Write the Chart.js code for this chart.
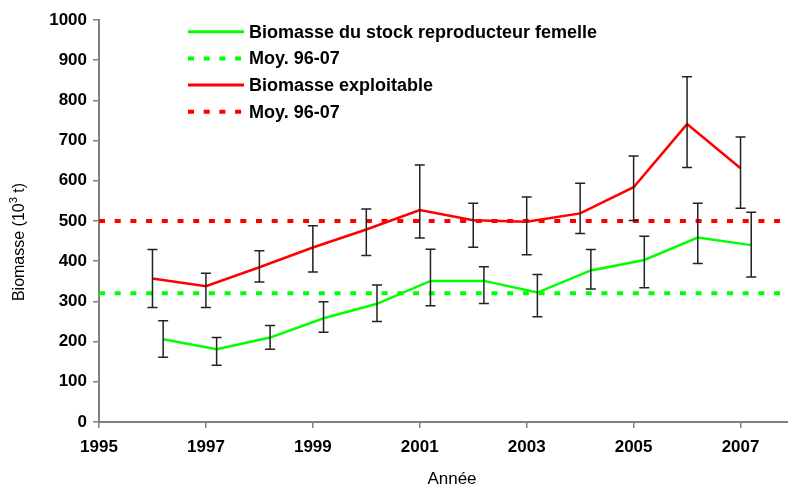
<!DOCTYPE html>
<html>
<head>
<meta charset="utf-8">
<script src="https://cdn.jsdelivr.net/npm/chart.js@4.4.0/dist/chart.umd.min.js"></script>
<style>
  html, body { margin: 0; padding: 0; overflow: hidden; background: #fff; }
</style>
</head>
<body>
<canvas id="chart" width="794" height="486"></canvas>
<script>
// données (milliers de tonnes)
const years = [1996, 1997, 1998, 1999, 2000, 2001, 2002, 2003, 2004, 2005, 2006, 2007];
const ssbValues = [206, 181, 210, 258, 294, 351, 351, 322, 377, 403, 459, 440];
const ssbLow = [161, 141, 181, 223, 250, 289, 295, 262, 331, 334, 394, 361];
const ssbHigh = [252, 210, 240, 299, 341, 430, 386, 367, 429, 462, 544, 522];
const exploitValues = [357, 338, 385, 434, 479, 527, 502, 498, 519, 584, 741, 631];
const exploitLow = [285, 285, 348, 373, 414, 458, 435, 416, 469, 501, 633, 532];
const exploitHigh = [429, 370, 426, 488, 530, 639, 544, 560, 594, 662, 859, 709];
const ssbMean = 320;
const exploitMean = 500;
const meanSpan = [1995, 2008];
const xTicks = [1995, 1997, 1999, 2001, 2003, 2005, 2007];
const labels = ["Biomasse du stock reproducteur femelle", "Moy. 96-07", "Biomasse exploitable", "Moy. 96-07"];

const FONT = "'Liberation Sans', Arial, sans-serif";
const GREEN = "#00ff00";
const RED = "#ff0000";
const AXIS = "#808080";
const SSB_SHIFT = 0.2; // la série femelle est décalée pour ne pas chevaucher les barres

const ssbPoints = years.map((y, i) => ({ x: y + SSB_SHIFT, y: ssbValues[i] }));
const exploitPoints = years.map((y, i) => ({ x: y, y: exploitValues[i] }));

// barres d'erreur
const errorBars = {
  id: "errorBars",
  afterDatasetsDraw(chart) {
    const ctx = chart.ctx;
    const yScale = chart.scales.y;
    ctx.save();
    ctx.strokeStyle = "#222";
    ctx.lineWidth = 1.5;
    chart.data.datasets.forEach((ds, i) => {
      if (!ds.errLow) return;
      const meta = chart.getDatasetMeta(i);
      meta.data.forEach((pt, j) => {
        const x = pt.x;
        const top = yScale.getPixelForValue(ds.errHigh[j]);
        const bot = yScale.getPixelForValue(ds.errLow[j]);
        ctx.beginPath();
        ctx.moveTo(x, top); ctx.lineTo(x, bot);
        ctx.moveTo(x - 5, top); ctx.lineTo(x + 5, top);
        ctx.moveTo(x - 5, bot); ctx.lineTo(x + 5, bot);
        ctx.stroke();
      });
    });
    ctx.restore();
  }
};

// légende dans la zone du graphique + titres des axes
const extras = {
  id: "extras",
  afterDraw(chart) {
    const ctx = chart.ctx;
    ctx.save();
    chart.data.datasets.forEach((ds, i) => {
      const y = 31.7 + i * 26.7;
      ctx.strokeStyle = ds.borderColor;
      ctx.lineWidth = ds.borderDash ? 4 : 3;
      ctx.setLineDash(ds.borderDash || []);
      ctx.beginPath();
      ctx.moveTo(188, y); ctx.lineTo(244, y);
      ctx.stroke();
      ctx.setLineDash([]);
      ctx.fillStyle = "#000";
      ctx.font = "bold 18px " + FONT;
      ctx.textAlign = "left";
      ctx.textBaseline = "middle";
      ctx.fillText(ds.label, 249, y + 1);
    });

    ctx.fillStyle = "#000";
    ctx.font = "17px " + FONT;
    ctx.textAlign = "center";
    ctx.textBaseline = "middle";
    ctx.fillText("Année", 452, 479);

    // titre vertical avec exposant
    ctx.translate(20, 242);
    ctx.rotate(-Math.PI / 2);
    const a = "Biomasse (10", sup = "3", b = " t)";
    ctx.font = "16px " + FONT;
    const wa = ctx.measureText(a).width, wb = ctx.measureText(b).width;
    ctx.font = "11px " + FONT;
    const ws = ctx.measureText(sup).width;
    let x0 = -(wa + ws + wb) / 2;
    ctx.textAlign = "left";
    ctx.font = "16px " + FONT;
    ctx.fillText(a, x0, 0);
    ctx.font = "11px " + FONT;
    ctx.fillText(sup, x0 + wa, -6);
    ctx.font = "16px " + FONT;
    ctx.fillText(b, x0 + wa + ws, 0);
    ctx.restore();
  }
};

new Chart(document.getElementById("chart"), {
  type: "line",
  data: {
    datasets: [
      {
        label: labels[0],
        data: ssbPoints,
        borderColor: GREEN,
        borderWidth: 2.5,
        pointRadius: 0,
        errLow: ssbLow,
        errHigh: ssbHigh
      },
      {
        label: labels[1],
        data: meanSpan.map(x => ({ x: x, y: ssbMean })),
        borderColor: GREEN,
        borderWidth: 4,
        borderDash: [6, 9.7],
        pointRadius: 0
      },
      {
        label: labels[2],
        data: exploitPoints,
        borderColor: RED,
        borderWidth: 2.5,
        pointRadius: 0,
        errLow: exploitLow,
        errHigh: exploitHigh
      },
      {
        label: labels[3],
        data: meanSpan.map(x => ({ x: x, y: exploitMean })),
        borderColor: RED,
        borderWidth: 4,
        borderDash: [6, 9.7],
        pointRadius: 0
      }
    ]
  },
  options: {
    responsive: false,
    animation: false,
    layout: { padding: { top: 20, left: 0, right: 0, bottom: 0 } },
    plugins: {
      legend: { display: false },
      tooltip: { enabled: false }
    },
    scales: {
      x: {
        type: "linear",
        min: 1995,
        max: 2008,
        afterBuildTicks: axis => { axis.ticks = xTicks.map(v => ({ value: v })); },
        afterFit: axis => { axis.height = 64; },
        ticks: {
          color: "#000",
          font: { family: FONT, size: 17, weight: "bold" },
          padding: 9,
          maxRotation: 0,
          callback: v => String(v)
        },
        grid: { drawOnChartArea: false, drawTicks: true, tickLength: 6, color: AXIS, lineWidth: 1.5 },
        border: { color: AXIS, width: 2 }
      },
      y: {
        min: 0,
        max: 1000,
        afterFit: axis => { axis.width = 99; },
        ticks: {
          stepSize: 100,
          color: "#000",
          font: { family: FONT, size: 17, weight: "bold" },
          padding: 6,
          callback: v => String(v)
        },
        grid: { drawOnChartArea: false, drawTicks: true, tickLength: 6, color: AXIS, lineWidth: 1.5 },
        border: { color: AXIS, width: 2 }
      }
    }
  },
  plugins: [errorBars, extras]
});
</script>
</body>
</html>
